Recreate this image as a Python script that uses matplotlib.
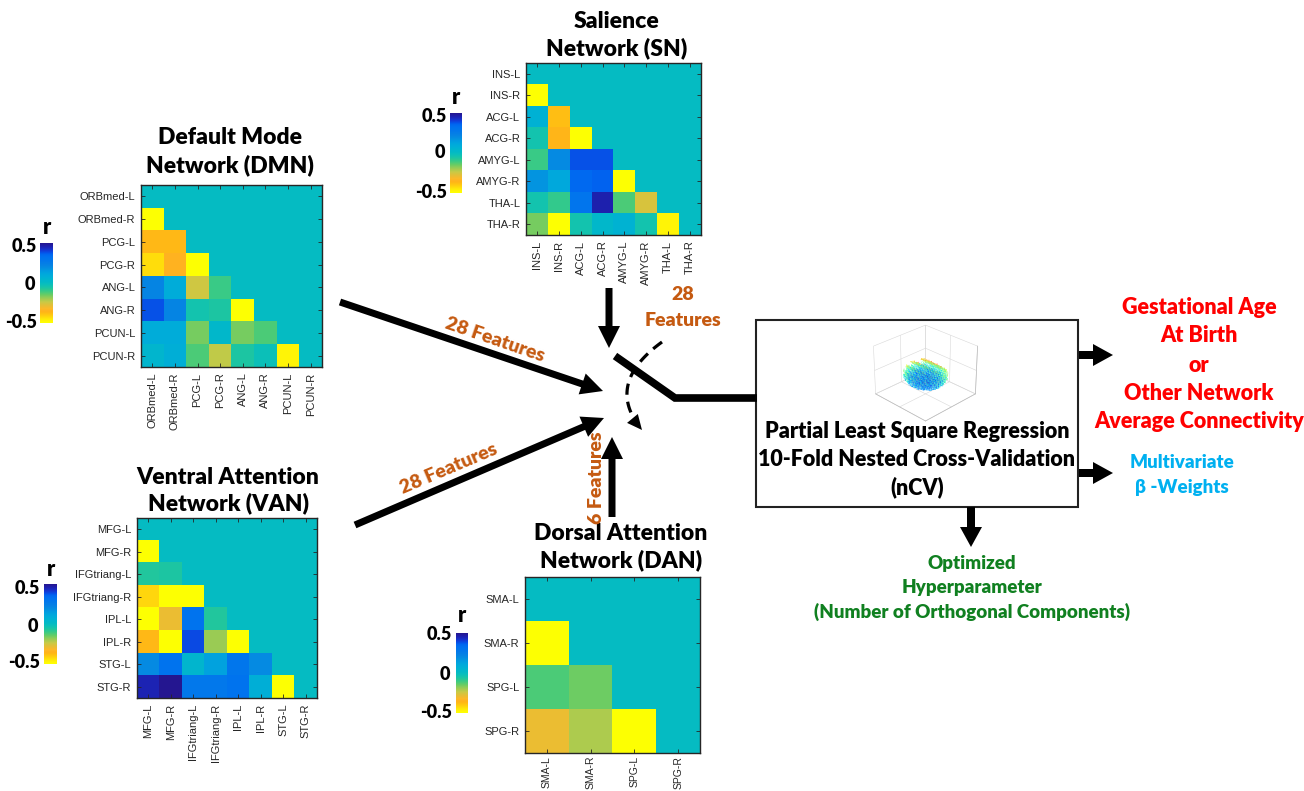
import numpy as np
import matplotlib
matplotlib.use('Agg')
import matplotlib.pyplot as plt
from matplotlib.colors import ListedColormap, Normalize, rgb_to_hsv, hsv_to_rgb
from matplotlib.patches import FancyArrow, Rectangle

# ---------------- data ----------------
dmn_labels = ['ORBmed-L', 'ORBmed-R', 'PCG-L', 'PCG-R', 'ANG-L', 'ANG-R', 'PCUN-L', 'PCUN-R']
dmn_rows = [
    [],
    [-0.50],
    [-0.37, -0.37],
    [-0.43, -0.34, -0.50],
    [0.22, 0.09, -0.25, -0.10],
    [0.38, 0.22, -0.04, -0.06, -0.50],
    [0.09, 0.09, -0.16, 0.03, -0.16, -0.12],
    [0.04, 0.08, -0.12, -0.23, -0.06, -0.02, -0.47],
]
sn_labels = ['INS-L', 'INS-R', 'ACG-L', 'ACG-R', 'AMYG-L', 'AMYG-R', 'THA-L', 'THA-R']
sn_rows = [
    [],
    [-0.50],
    [0.07, -0.38],
    [-0.04, -0.36, -0.50],
    [-0.10, 0.20, 0.38, 0.38],
    [0.17, 0.11, 0.35, 0.36, -0.50],
    [-0.04, -0.09, 0.30, 0.46, -0.12, -0.26],
    [-0.16, -0.50, -0.04, 0.03, 0.06, -0.04, -0.47],
]
van_labels = ['MFG-L', 'MFG-R', 'IFGtriang-L', 'IFGtriang-R', 'IPL-L', 'IPL-R', 'STG-L', 'STG-R']
van_rows = [
    [],
    [-0.50],
    [-0.07, -0.06],
    [-0.42, -0.50, -0.50],
    [-0.50, -0.29, 0.31, -0.07],
    [-0.37, -0.50, 0.39, -0.19, -0.50],
    [0.20, 0.31, 0.04, 0.13, 0.29, 0.20],
    [0.45, 0.50, 0.28, 0.28, 0.31, 0.08, -0.50],
]
dan_labels = ['SMA-L', 'SMA-R', 'SPG-L', 'SPG-R']
dan_rows = [
    [],
    [-0.50],
    [-0.12, -0.15],
    [-0.29, -0.21, -0.50],
]

# ---------------- colormap (parula, reversed, centre shifted and saturated) ----------------
parula = np.array([
 [0.2081, 0.1663, 0.5292], [0.2116, 0.1898, 0.5777], [0.2123, 0.2138, 0.6270], [0.2081, 0.2386, 0.6771],
 [0.1959, 0.2645, 0.7279], [0.1707, 0.2919, 0.7792], [0.1253, 0.3242, 0.8303], [0.0591, 0.3598, 0.8683],
 [0.0117, 0.3875, 0.8820], [0.0060, 0.4086, 0.8828], [0.0165, 0.4266, 0.8786], [0.0329, 0.4430, 0.8720],
 [0.0498, 0.4586, 0.8641], [0.0629, 0.4737, 0.8554], [0.0723, 0.4887, 0.8467], [0.0779, 0.5040, 0.8384],
 [0.0793, 0.5200, 0.8312], [0.0749, 0.5375, 0.8263], [0.0641, 0.5570, 0.8240], [0.0488, 0.5772, 0.8228],
 [0.0343, 0.5966, 0.8199], [0.0265, 0.6137, 0.8135], [0.0239, 0.6287, 0.8038], [0.0231, 0.6418, 0.7913],
 [0.0228, 0.6535, 0.7768], [0.0267, 0.6642, 0.7607], [0.0384, 0.6743, 0.7436], [0.0590, 0.6838, 0.7254],
 [0.0843, 0.6928, 0.7062], [0.1133, 0.7015, 0.6859], [0.1453, 0.7098, 0.6646], [0.1801, 0.7177, 0.6424],
 [0.2178, 0.7250, 0.6193], [0.2586, 0.7317, 0.5954], [0.3022, 0.7376, 0.5712], [0.3482, 0.7424, 0.5473],
 [0.3953, 0.7459, 0.5244], [0.4420, 0.7481, 0.5033], [0.4871, 0.7491, 0.4840], [0.5300, 0.7491, 0.4661],
 [0.5709, 0.7485, 0.4494], [0.6099, 0.7473, 0.4337], [0.6473, 0.7456, 0.4188], [0.6834, 0.7435, 0.4044],
 [0.7184, 0.7411, 0.3905], [0.7525, 0.7384, 0.3768], [0.7858, 0.7356, 0.3633], [0.8185, 0.7327, 0.3498],
 [0.8507, 0.7299, 0.3360], [0.8824, 0.7274, 0.3217], [0.9139, 0.7258, 0.3063], [0.9450, 0.7261, 0.2886],
 [0.9739, 0.7314, 0.2666], [0.9938, 0.7455, 0.2403], [0.9990, 0.7653, 0.2164], [0.9955, 0.7861, 0.1967],
 [0.9880, 0.8066, 0.1794], [0.9789, 0.8271, 0.1633], [0.9697, 0.8481, 0.1475], [0.9626, 0.8705, 0.1309],
 [0.9589, 0.8949, 0.1132], [0.9598, 0.9218, 0.0948], [0.9661, 0.9514, 0.0755], [0.9763, 0.9831, 0.0538]])
pos = np.linspace(0, 1, len(parula))
q = np.linspace(0, 1, 256)                       # q=0 -> r=-0.5 (yellow), q=1 -> r=+0.5 (navy)
r = np.where(q < 0.5, q / 0.5 * 0.56, 0.56 + (q - 0.5) / 0.5 * 0.44)
p = 1 - r
cols = np.stack([np.interp(p, pos, parula[:, i]) for i in range(3)], axis=1)
hsv = rgb_to_hsv(cols)
hsv[:, 1] = 1 - (1 - hsv[:, 1]) ** 1.6
hsv[:, 2] = np.clip(hsv[:, 2] * 1.07, 0, 1)
cmap = ListedColormap(hsv_to_rgb(hsv))
norm = Normalize(-0.5, 0.5)

W, H = 1304, 791
fig = plt.figure(figsize=(W / 100, H / 100), dpi=100)
fig.patch.set_facecolor('white')


def px_axes(x0, y0, x1, y1, **kw):
    return fig.add_axes([x0 / W, 1 - y1 / H, (x1 - x0) / W, (y1 - y0) / H], **kw)


ov = px_axes(0, 0, W, H)
ov.set_xlim(0, W)
ov.set_ylim(H, 0)
ov.axis('off')

TF = 'Lato'
WT = 'heavy'


def heatmap(rect, labels, rows, fs=8, xfs=8, xpad=4):
    n = len(labels)
    M = np.zeros((n, n))
    for i, rr in enumerate(rows):
        for j, v in enumerate(rr):
            M[i, j] = v
    ax = px_axes(*rect)
    ax.imshow(M, cmap=cmap, norm=norm, aspect='auto', interpolation='nearest')
    ax.set_xticks(range(n))
    ax.set_xticklabels(labels, rotation=90, fontsize=xfs, family='Liberation Sans')
    ax.set_yticks(range(n))
    ax.set_yticklabels(labels, fontsize=fs, family='Liberation Sans')
    ax.tick_params(direction='in', length=3, width=0.6, top=True, right=True,
                   colors='#262626', pad=4)
    ax.tick_params(axis='x', pad=xpad)
    for s in ax.spines.values():
        s.set_linewidth(1.0)
        s.set_color('#262626')
    return ax


def cbar(rect, lab):
    ax = px_axes(*rect)
    ax.imshow(np.linspace(0.5, -0.5, 256)[:, None], cmap=cmap, norm=norm, aspect='auto')
    ax.axis('off')
    x0, y0, x1, y1 = rect
    rx, y5, y0v, ym5, ryr = lab
    ov.text(rx, y5, '0.5', ha='right', va='center', fontsize=13, fontweight=WT, family=TF)
    ov.text(rx - 7, y0v, '0', ha='center', va='center', fontsize=13, fontweight=WT, family=TF)
    ov.text(rx, ym5, '-0.5', ha='right', va='center', fontsize=13, fontweight=WT, family=TF)
    ov.text((x0 + x1) / 2, ryr, 'r', ha='center', va='center', fontsize=15.5, fontweight=WT, family=TF)


def title(x, y1, y2, l1, l2):
    ov.text(x, y1, l1, ha='center', va='center', fontsize=16.5, fontweight=WT, family=TF)
    ov.text(x, y2, l2, ha='center', va='center', fontsize=16.5, fontweight=WT, family=TF)


# DMN
heatmap((141, 185, 322, 367), dmn_labels, dmn_rows)
cbar((40, 243, 53, 323), (37, 246, 285, 323, 227))
title(230, 138, 165, 'Default Mode', 'Network (DMN)')
# SN
heatmap((526, 63, 701, 235), sn_labels, sn_rows)
cbar((450, 113, 462, 193), (447, 116, 153, 192, 97))
title(617, 21, 48, 'Salience', 'Network (SN)')
# VAN
heatmap((137, 518, 317, 698), van_labels, van_rows)
cbar((44, 584, 57, 664), (40, 588, 626, 663, 569))
title(228, 477, 503, 'Ventral Attention', 'Network (VAN)')
# DAN
heatmap((525, 577, 700, 753), dan_labels, dan_rows, xfs=7.5, xpad=2)
cbar((456, 633, 468, 713), (452, 635, 674, 713, 616))
title(621, 533, 560, 'Dorsal Attention', 'Network (DAN)')

# ---------------- arrows ----------------
def arrow(x0, y0, x1, y1, w=7, hw=22, hl=22):
    ov.add_patch(FancyArrow(x0, y0, x1 - x0, y1 - y0, width=w, head_width=hw, head_length=hl,
                            length_includes_head=True, color='black', lw=0))

orange = '#C55A11'
FS_F = 14
arrow(340, 302, 603, 391)
arrow(355, 525, 604, 418)
arrow(609, 288, 609, 348)
arrow(612, 517, 612, 437)
ov.text(495, 340, '28 Features', rotation=-19, ha='center', va='center', fontsize=FS_F,
        fontweight=WT, family=TF, color=orange)
ov.text(449, 469, '28 Features', rotation=23, ha='center', va='center', fontsize=FS_F,
        fontweight=WT, family=TF, color=orange)
ov.text(596, 478, '6 Features', rotation=90, ha='center', va='center', fontsize=FS_F,
        fontweight=WT, family=TF, color=orange)
ov.text(683, 295, '28', ha='center', va='center', fontsize=FS_F, fontweight=WT, family=TF, color=orange)
ov.text(683, 320, 'Features', ha='center', va='center', fontsize=FS_F, fontweight=WT, family=TF, color=orange)

# bent connector
ov.plot([615, 675, 757], [356, 398, 398], color='black', lw=5.5, solid_joinstyle='miter',
        solid_capstyle='butt')

# dashed curved arrow
P0 = np.array([662, 342.0]); P1 = np.array([604, 384.0]); P2 = np.array([642, 430.0])
t = np.linspace(0, 0.86, 60)[:, None]
curve = (1 - t) ** 2 * P0 + 2 * (1 - t) * t * P1 + t ** 2 * P2
ov.plot(curve[:, 0], curve[:, 1], color='black', lw=2.3, ls=(0, (3.5, 2.2)))
d = (P2 - P1) / np.linalg.norm(P2 - P1)
base = P2 - 15 * d
ov.add_patch(FancyArrow(base[0], base[1], 15 * d[0], 15 * d[1], width=1, head_width=14,
                        head_length=15, length_includes_head=True, color='black', lw=0))

# PLS box
ov.add_patch(Rectangle((756, 320), 322, 187, facecolor='white', edgecolor='#222222', lw=1.5))
FS_B = 15.5
ov.text(917, 432, 'Partial Least Square Regression', ha='center', va='center', fontsize=FS_B,
        fontweight=WT, family=TF)
ov.text(917, 460, '10-Fold Nested Cross-Validation', ha='center', va='center', fontsize=FS_B,
        fontweight=WT, family=TF)
ov.text(917, 487, '(nCV)', ha='center', va='center', fontsize=FS_B, fontweight=WT, family=TF)

arrow(1079, 355, 1113, 355, w=8, hw=22, hl=20)
arrow(1079, 473, 1113, 473, w=8, hw=22, hl=20)
arrow(971, 507, 971, 547, w=8, hw=22, hl=20)

red = '#FF0000'
for s, y in [('Gestational Age', 308), ('At Birth', 336), ('or', 365),
             ('Other Network', 393), ('Average Connectivity', 422)]:
    ov.text(1199, y, s, ha='center', va='center', fontsize=15.5, fontweight=WT, family=TF, color=red)
blue = '#00B0F0'
ov.text(1182, 463, 'Multivariate', ha='center', va='center', fontsize=13.5, fontweight=WT, family=TF, color=blue)
ov.text(1182, 488, 'β -Weights', ha='center', va='center', fontsize=13.5, fontweight=WT,
        family=[TF, 'DejaVu Sans'], color=blue)
green = '#108020'
for s, y in [('Optimized', 563), ('Hyperparameter', 588), ('(Number of Orthogonal Components)', 612)]:
    ov.text(972, y, s, ha='center', va='center', fontsize=13.5, fontweight=WT, family=TF, color=green)

# 3D scatter thumbnail (decorative icon, deterministic point cloud)
ax3 = px_axes(848, 316, 1000, 428, projection='3d')
ax3.set_facecolor('none')
ax3.computed_zorder = False
k = np.arange(1, 7001)
g = 1.2207440846
u = (0.5 + k / g) % 1; v = (0.5 + k / g ** 2) % 1; w = (0.5 + k / g ** 3) % 1
x, y, z = 2 * u - 1, 2 * v - 1, 2 * w - 1
keep = (x ** 2 + y ** 2 + z ** 2 < 1) & ((z < 0.2) | (k % 3 == 0))
x, y, z = x[keep], y[keep], z[keep]
X = 0.5 + 0.33 * x; Y = 0.5 + 0.30 * y; Z = 0.42 + 0.26 * z
cval = z + 0.25 * x - 0.2 * y
edges = [1.5, 0.55, 0.25, 0.0, -0.3, -2]
for i in range(len(edges) - 1):
    m = (cval <= edges[i]) & (cval > edges[i + 1])
    ax3.scatter(X[m], Y[m], Z[m], c=cval[m], cmap='jet', vmin=-1.15, vmax=1.25,
                s=1.6, marker='.', linewidths=0, depthshade=False, zorder=i + 1)
ax3.set_xlim(0, 1); ax3.set_ylim(0, 1); ax3.set_zlim(0, 1)
for a in (ax3.xaxis, ax3.yaxis, ax3.zaxis):
    a.set_pane_color((1, 1, 1, 0))
    a._axinfo['grid'].update(color='#d8d8d8', linewidth=0.4)
    a.line.set_color('#bbbbbb')
    a.line.set_linewidth(0.5)
    a.set_ticklabels([])
    a._axinfo['tick'].update(inward_factor=0, outward_factor=0)
ax3.view_init(elev=28, azim=-45)

fig.savefig('out.png', dpi=100, facecolor='white')
